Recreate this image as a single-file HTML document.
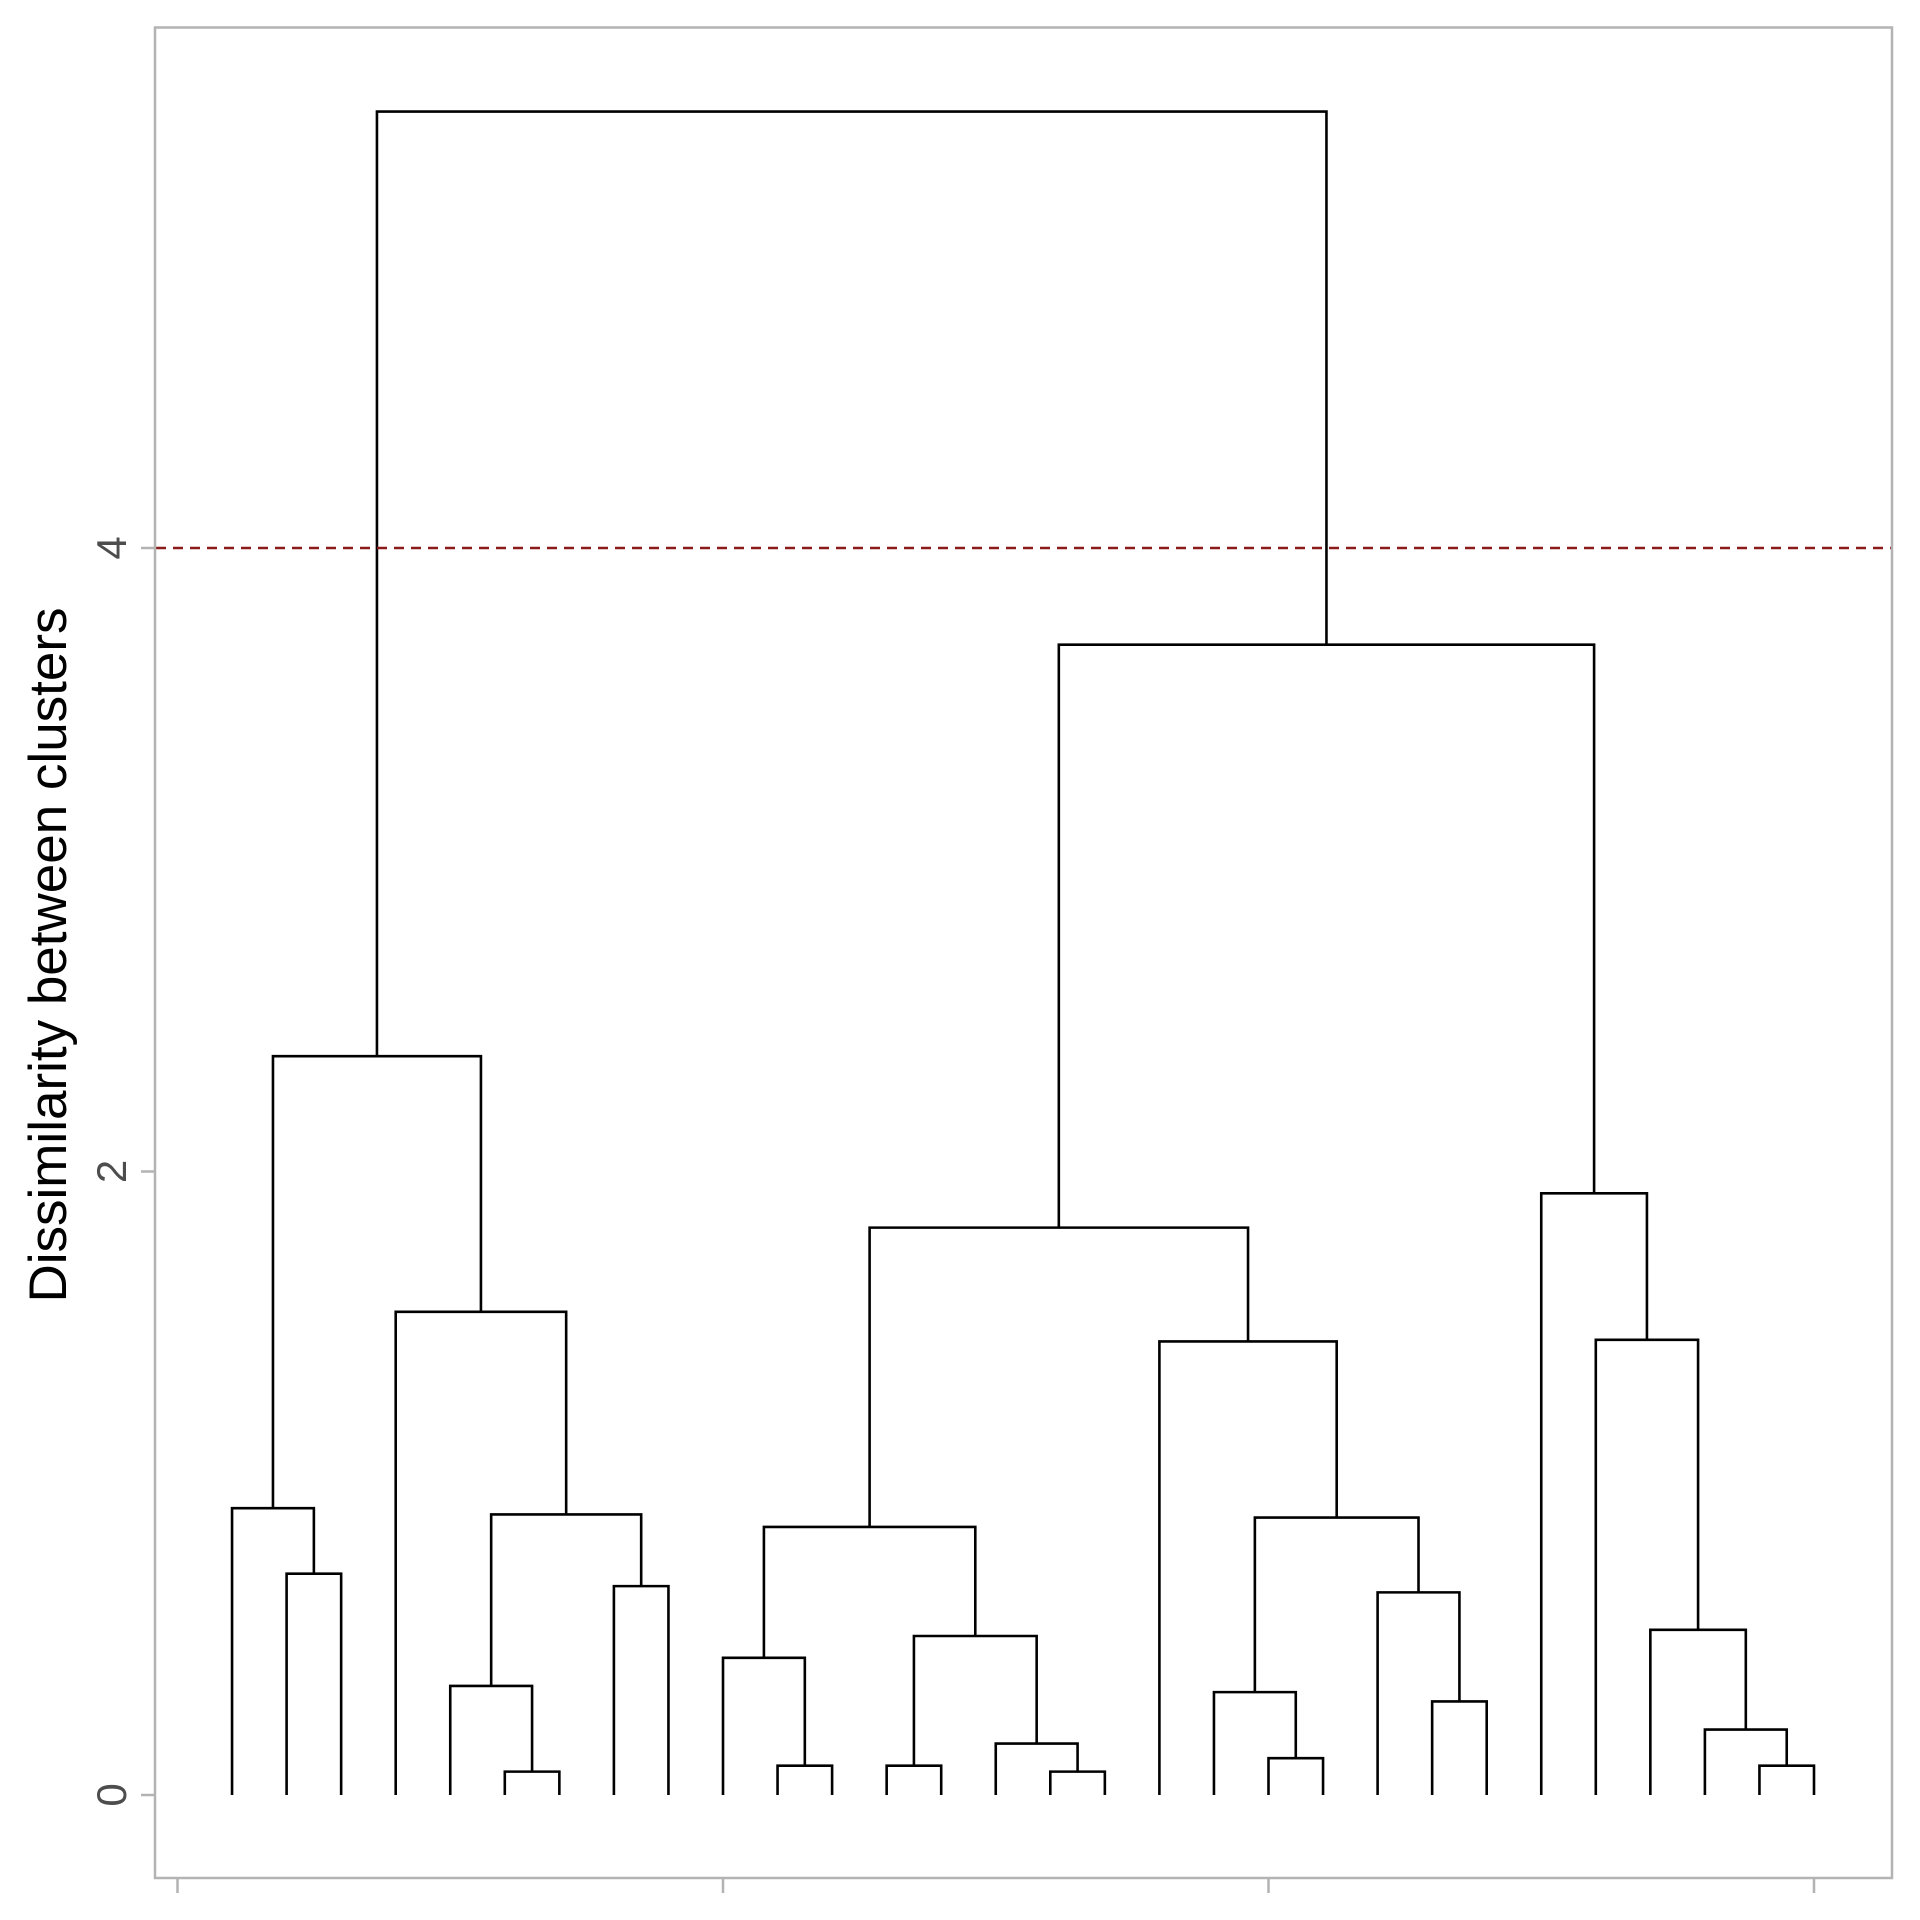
<!DOCTYPE html>
<html><head><meta charset="utf-8"><style>
html,body{margin:0;padding:0;background:#fff;}
svg{display:block;}
</style></head><body>
<svg id="chart" width="1920" height="1920" viewBox="0 0 1920 1920" xmlns="http://www.w3.org/2000/svg">
<rect x="0" y="0" width="1920" height="1920" fill="#fff"/>
<g id="plot"></g>
<rect x="155" y="27.5" width="1737" height="1850.5" fill="none" stroke="#b3b3b3" stroke-width="2.5"/>
<text transform="translate(66,955) rotate(-90)" text-anchor="middle" font-family="Liberation Sans, sans-serif" font-size="53" fill="#000">Dissimilarity between clusters</text>
</svg>
<script>
// merges: positive = leaf number (1..30), "mN" = result of merge index N
const mergeLeft  = [2, 1, 6, 5, 8, 'm3', 4, 'm1', 11, 10, 13, 16, 15, 'm10', 'm9', 20, 19, 23, 22, 'm16', 18, 'm14', 29, 28, 27, 26, 25, 'm21', 'm7'];
const mergeRight = [3, 'm0', 7, 'm2', 9, 'm4', 'm5', 'm6', 12, 'm8', 14, 17, 'm11', 'm12', 'm13', 21, 'm15', 24, 'm17', 'm18', 'm19', 'm20', 30, 'm22', 'm23', 'm24', 'm25', 'm26', 'm27'];
const mergeHeight = [0.71, 0.92, 0.075, 0.35, 0.67, 0.90, 1.55, 2.37, 0.094, 0.44, 0.094, 0.075, 0.165, 0.51, 0.86, 0.118, 0.33, 0.30, 0.65, 0.89, 1.455, 1.82, 0.094, 0.21, 0.53, 1.46, 1.93, 3.69, 5.40];
const yTicks = [0, 2, 4];
const xTicks = [0, 10, 20, 30];
const cutHeight = 4;

const svgNS = 'http://www.w3.org/2000/svg';
const plot = document.getElementById('plot');
const svg = document.getElementById('chart');
function xScale(v){ return 177.5 + v * 54.55; }
function yScale(v){ return 1795 - v * 311.75; }

const pos = [];
function node(ref){
  if (typeof ref === 'number') return {x: ref, h: 0};
  return pos[parseInt(ref.slice(1))];
}
let d = '';
for (let i = 0; i < mergeHeight.length; i++) {
  const a = node(mergeLeft[i]), b = node(mergeRight[i]), h = mergeHeight[i];
  d += 'M' + xScale(a.x) + ' ' + yScale(a.h) + 'V' + yScale(h) + 'H' + xScale(b.x) + 'V' + yScale(b.h);
  pos.push({x: (a.x + b.x) / 2, h: h});
}
const p = document.createElementNS(svgNS, 'path');
p.setAttribute('d', d);
p.setAttribute('fill', 'none');
p.setAttribute('stroke', '#000');
p.setAttribute('stroke-width', '2.6');


plot.appendChild(p);

const cut = document.createElementNS(svgNS, 'line');
cut.setAttribute('x1', 156); cut.setAttribute('x2', 1891);
cut.setAttribute('y1', yScale(cutHeight)); cut.setAttribute('y2', yScale(cutHeight));
cut.setAttribute('stroke', '#8b1a1a');
cut.setAttribute('stroke-width', '2.4');
cut.setAttribute('stroke-dasharray', '10,7');


plot.appendChild(cut);

yTicks.forEach(function(v){
  const t = document.createElementNS(svgNS, 'line');
  t.setAttribute('x1', 141); t.setAttribute('x2', 155);
  t.setAttribute('y1', yScale(v)); t.setAttribute('y2', yScale(v));
  t.setAttribute('stroke', '#b3b3b3'); t.setAttribute('stroke-width', '2.5');
  
  
  svg.appendChild(t);
  const l = document.createElementNS(svgNS, 'text');
  l.setAttribute('transform', 'translate(126,' + yScale(v) + ') rotate(-90)');
  l.setAttribute('text-anchor', 'middle');
  l.setAttribute('font-family', 'Liberation Sans, sans-serif');
  l.setAttribute('font-size', '42');
  l.setAttribute('fill', '#4d4d4d');
  
  
  l.textContent = v;
  svg.appendChild(l);
});
xTicks.forEach(function(v){
  const t = document.createElementNS(svgNS, 'line');
  t.setAttribute('x1', xScale(v)); t.setAttribute('x2', xScale(v));
  t.setAttribute('y1', 1878); t.setAttribute('y2', 1893);
  t.setAttribute('stroke', '#b3b3b3'); t.setAttribute('stroke-width', '2.5');
  
  
  svg.appendChild(t);
});
</script>
</body></html>
